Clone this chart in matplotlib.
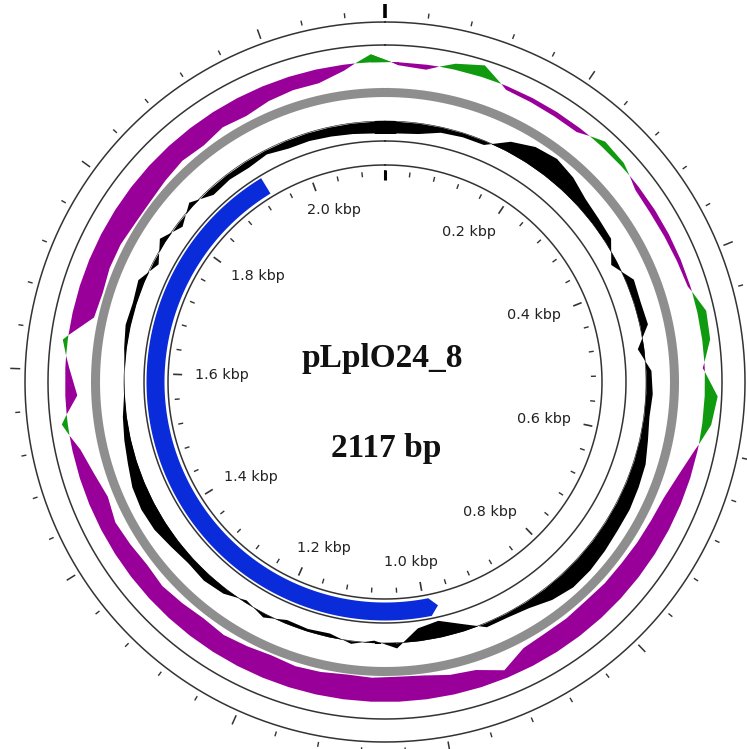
import numpy as np
import matplotlib
matplotlib.use("Agg")
import matplotlib.pyplot as plt

plasmid_name = "pLplO24_8"
plasmid_length = 2117

# single CDS on the reverse strand (bp)
cds_start = 980
cds_end = 1933

# ruler spacing (bp)
minor_step = 40
major_step = 200

# GC content deviation from the plasmid mean, 5 degree windows clockwise from 0 bp
gc_content = [-0.90, -0.80, -0.40, -0.30, -0.30, 0.80, 1.40, 1.60, 1.30, 0.80,
              0.60, 0.50, -0.50, 0.60, 0.50, 0.60, -0.50, 0.40, 0.50, 0.40,
              0.60, 0.90, 1.00, 1.10, 1.10, 1.20, 1.30, 1.30, 1.00, 0.50,
              0.30, 0.30, -0.60, -1.30, -1.00, 0.40, -0.20, 0.20, -0.30, -0.20,
              -0.30, 0.30, -0.20, 0.40, 0.60, 0.50, 0.70, 1.00, 1.10, 1.00,
              0.70, 0.50, 0.30, 0.05, 0.00, 0.20, 0.40, 0.30, 0.50, -0.40,
              0.50, -0.40, 0.40, -0.50, -0.40, -0.50, -0.30, -0.60, -0.60, -0.70,
              -0.80, -0.90]

# GC skew per window, same windows
gc_skew = [-0.12, -0.20, 0.24, 0.48, -0.15, -0.18, -0.20, -0.20, 0.24, 0.16,
           -0.18, -0.22, -0.20, -0.16, -0.10, 0.36, 0.32, -0.08, 0.52, 0.36,
           -0.12, -0.48, -0.72, -0.80, -0.84, -0.88, -0.88, -0.92, -0.88, -0.88,
           -0.80, -0.32, -0.72, -0.80, -0.96, -1.00, -0.96, -1.00, -0.92, -0.88,
           -0.96, -0.88, -0.80, -0.88, -0.80, -0.72, -0.80, -0.72, -0.64, -0.80,
           -0.60, -0.32, 0.24, -0.48, -0.16, 0.20, -0.88, -0.96, -0.88, -0.88,
           -0.96, -0.96, -0.88, -0.80, -0.88, -0.72, -0.80, -0.64, -0.56, -0.56,
           -0.24, 0.32]

W, H = 747, 749
cx, cy = 385, 382      # map centre, pixels from top-left
R = 385

green = "#109a10"
purple = "#990099"
blue = "#0a2bd9"
line_col = "#333333"

fig = plt.figure(figsize=(W / 100, H / 100), dpi=100)
ax = fig.add_axes([(cx - R) / W, (H - cy - R) / H, 2 * R / W, 2 * R / H],
                  projection="polar")
ax.set_theta_zero_location("N")
ax.set_theta_direction(-1)
ax.set_ylim(0, R)
ax.set_axis_off()

full = np.linspace(0, 2 * np.pi, 1441)


def ang(bp):
    return 2 * np.pi * np.asarray(bp, dtype=float) / plasmid_length


def circle(r, lw=1.1, color=line_col):
    ax.plot(full, np.full_like(full, r), color=color, lw=lw)


def window_track(values, base, scale):
    v = np.asarray(values, dtype=float)
    n = len(v)
    th = (np.arange(-1, n + 1) + 0.5) * 2 * np.pi / n
    v = np.concatenate([v[-1:], v, v[:1]])
    return th, base + scale * v


# backbone circles
for r in (360, 337, 241, 217):
    circle(r)

# GC skew
skew_base, skew_scale = 320, 25
th, rr = window_track(gc_skew, skew_base, skew_scale)
ax.fill_between(th, skew_base, rr, where=rr >= skew_base, interpolate=True,
                color=green, lw=0)
ax.fill_between(th, skew_base, rr, where=rr <= skew_base, interpolate=True,
                color=purple, lw=0)

# grey ring
circle(289.5, lw=6.5, color="#8e8e8e")

# GC content
gc_base, gc_scale = 261, 13
th, rr = window_track(gc_content, gc_base, gc_scale)
ax.fill_between(th, gc_base, rr, color="black", lw=0)
circle(gc_base, lw=0.4, color="black")

# CDS arrow, pointing towards cds_start
r_in, r_out = 220.5, 238.5
head_bp = 12
arc = np.linspace(ang(cds_start + head_bp), ang(cds_end), 300)
thetas = np.concatenate([arc, arc[::-1], [ang(cds_start)]])
radii = np.concatenate([np.full(arc.size, r_out), np.full(arc.size, r_in),
                        [(r_in + r_out) / 2]])
ax.fill(thetas, radii, color=blue, lw=0)

# ruler ticks, inner and outer
pos = np.arange(0, plasmid_length, minor_step)
is_major = pos % major_step == 0
ax.vlines(ang(pos[~is_major]), 206, 211, color=line_col, lw=1.0)
ax.vlines(ang(pos[is_major]), 203, 212, color=line_col, lw=1.2)
ax.vlines(ang(pos[~is_major]), 366, 371, color=line_col, lw=1.0)
ax.vlines(ang(pos[is_major]), 365, 375, color=line_col, lw=1.1)
ax.vlines([0], 202, 212, color="black", lw=2.2)
ax.vlines([0], 364, 378, color="black", lw=2.6)

# ruler labels
fig.canvas.draw()
renderer = fig.canvas.get_renderer()
label_r = 190
for bp in np.arange(major_step, plasmid_length, major_step):
    t = ax.text(0, 0, f"{bp / 1000:.1f} kbp", ha="center", va="center",
                fontsize=10.4, family="DejaVu Sans", color="#222222")
    bb = t.get_window_extent(renderer)
    a = ang(bp)
    s, c = np.sin(a), np.cos(a)
    x = label_r * s - np.clip(1.5 * s, -1, 1) * bb.width / 2
    y = label_r * c - np.clip(1.5 * c, -1, 1) * bb.height / 2
    t.set_position((np.arctan2(x, y), np.hypot(x, y)))

# centre titles
fig.text(382 / W, 1 - 367 / H, plasmid_name, ha="center", va="baseline",
         family="Liberation Serif", weight="bold", fontsize=24, color="#111111")
fig.text(386 / W, 1 - 457 / H, f"{plasmid_length} bp", ha="center",
         va="baseline", family="Liberation Serif", weight="bold", fontsize=24,
         color="#111111")

fig.savefig("out.png", dpi=100, facecolor="white")
